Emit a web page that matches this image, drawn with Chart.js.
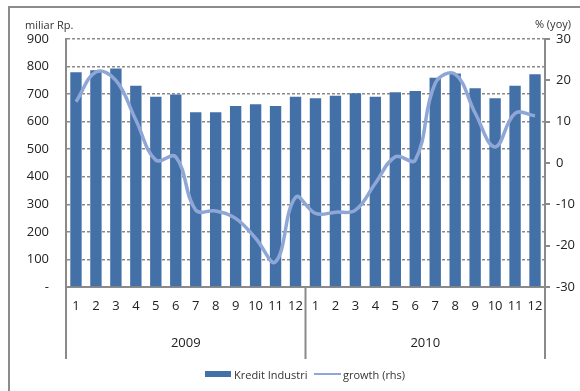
<!DOCTYPE html>
<html>
<head>
<meta charset="utf-8">
<script src="https://cdn.jsdelivr.net/npm/chart.js@4/dist/chart.umd.min.js"></script>
<style>
  html, body { margin: 0; padding: 0; background: #fff; }
  #wrap { position: relative; width: 580px; height: 391px; overflow: hidden; font-family: "Open Sans", "Noto Sans", sans-serif; }
  canvas { position: absolute; left: 0; top: 0; }
  .legend { position: absolute; top: 367px; font-size: 11px; color: #333; white-space: nowrap; }
  .sw-bar { position: absolute; left: 205px; top: 371px; width: 26px; height: 6px; background: #4470a8; }
  .sw-line { position: absolute; left: 314px; top: 373px; width: 27px; height: 2px; background: #8fa7d6; }
</style>
</head>
<body>
<div id="wrap">
  <canvas id="c" width="580" height="391"></canvas>
  <div class="sw-bar"></div>
  <div class="legend" style="left:234px">Kredit Industri</div>
  <div class="sw-line"></div>
  <div class="legend" style="left:343px">growth (rhs)</div>
</div>
<script>
// Monthly industry credit (billion Rp) and its year-on-year growth, 2009–2010
const months = ['1','2','3','4','5','6','7','8','9','10','11','12',
                '1','2','3','4','5','6','7','8','9','10','11','12'];
const years = ['2009', '2010'];
const kreditIndustri = [779, 787, 793, 730, 690, 699, 634, 634, 657, 663, 657, 690,
                        685, 694, 703, 690, 707, 711, 759, 775, 721, 685, 730, 772];
const growth = [14.8, 22.0, 20.0, 10.4, 0.7, 1.5, -11.4, -11.6, -13.4, -18.2, -23.9, -8.3,
                -12.2, -11.9, -11.4, -4.9, 1.5, 0.7, 19.3, 21.5, 12.1, 3.9, 12.0, 11.4];
const leftTicks = [0, 100, 200, 300, 400, 500, 600, 700, 800, 900];
const rightTicks = [-30, -20, -10, 0, 10, 20, 30];

const FONT = '"Open Sans", "Noto Sans", sans-serif';
const AXIS_GREY = '#8a8a8a';

// frame, axis captions and year separators
const decor = {
  id: 'decor',
  beforeDraw(chart) {
    const ctx = chart.ctx;
    ctx.save();
    ctx.strokeStyle = '#8c8c8c';
    ctx.lineWidth = 2;
    ctx.beginPath();
    ctx.moveTo(9, 391);
    ctx.lineTo(9, 7);
    ctx.lineTo(580, 7);
    ctx.stroke();
    ctx.restore();
  },
  afterDraw(chart) {
    const ctx = chart.ctx;
    const x = chart.scales.x;
    const area = chart.chartArea;
    ctx.save();
    ctx.strokeStyle = AXIS_GREY;
    ctx.lineWidth = 2;
    const n = months.length;
    const step = (x.getPixelForValue(1) - x.getPixelForValue(0));
    const edges = [x.getPixelForValue(0) - step / 2,
                   x.getPixelForValue(11) + step / 2,
                   x.getPixelForValue(n - 1) + step / 2];
    ctx.beginPath();
    edges.forEach(px => { ctx.moveTo(px, area.bottom); ctx.lineTo(px, 359); });
    ctx.stroke();
    ctx.fillStyle = '#333';
    ctx.font = '11px ' + FONT;
    ctx.textBaseline = 'middle';
    ctx.textAlign = 'left';
    ctx.fillText('miliar Rp.', 25, 26);
    ctx.textAlign = 'right';
    ctx.fillText('% (yoy)', 571, 25);
    ctx.restore();
  }
};

new Chart(document.getElementById('c'), {
  data: {
    labels: months,
    datasets: [
      {
        type: 'line',
        label: 'growth (rhs)',
        data: growth,
        yAxisID: 'y2',
        borderColor: '#8fa7d6',
        borderWidth: 3.5,
        pointRadius: 0,
        tension: 0.4,
        fill: false,
        order: 0
      },
      {
        type: 'bar',
        label: 'Kredit Industri',
        data: kreditIndustri,
        yAxisID: 'y',
        backgroundColor: '#4470a8',
        barPercentage: 0.57,
        categoryPercentage: 1,
        order: 1
      }
    ]
  },
  plugins: [decor],
  options: {
    responsive: false,
    animation: false,
    devicePixelRatio: 1,
    layout: { padding: { top: 39, left: 0, right: 0, bottom: 0 } },
    plugins: { legend: { display: false }, tooltip: { enabled: false } },
    scales: {
      x: {
        type: 'category',
        position: 'bottom',
        offset: true,
        grid: { display: false, drawTicks: false },
        border: { display: true, color: AXIS_GREY, width: 2 },
        ticks: { padding: 11, color: '#222', font: { family: FONT, size: 13 }, maxRotation: 0, autoSkip: false },
        afterFit(s) { s.height = 40; }
      },
      x2: {
        type: 'category',
        position: 'bottom',
        labels: years,
        offset: true,
        grid: { display: false, drawTicks: false },
        border: { display: false },
        ticks: { padding: 8, color: '#222', font: { family: FONT, size: 13 } },
        afterFit(s) { s.height = 64; }
      },
      y: {
        position: 'left',
        min: 0, max: 900,
        afterBuildTicks(s) { s.ticks = leftTicks.map(v => ({ value: v })); },
        grid: { color: AXIS_GREY, lineWidth: 1.5, drawTicks: false },
        border: { display: true, color: AXIS_GREY, width: 2, dash: [3, 2] },
        ticks: {
          padding: 17, color: '#222', font: { family: FONT, size: 13 },
          callback: v => v === 0 ? '-' : String(v)
        },
        afterFit(s) { s.width = 66; }
      },
      y2: {
        position: 'right',
        min: -30, max: 30,
        afterBuildTicks(s) { s.ticks = rightTicks.map(v => ({ value: v })); },
        grid: { drawOnChartArea: false, drawTicks: true, tickLength: 5, color: AXIS_GREY, lineWidth: 2 },
        border: { display: true, color: AXIS_GREY, width: 2 },
        ticks: { padding: 6, color: '#222', font: { family: FONT, size: 13 } },
        afterFit(s) { s.width = 35; }
      }
    }
  }
});
</script>
</body>
</html>
